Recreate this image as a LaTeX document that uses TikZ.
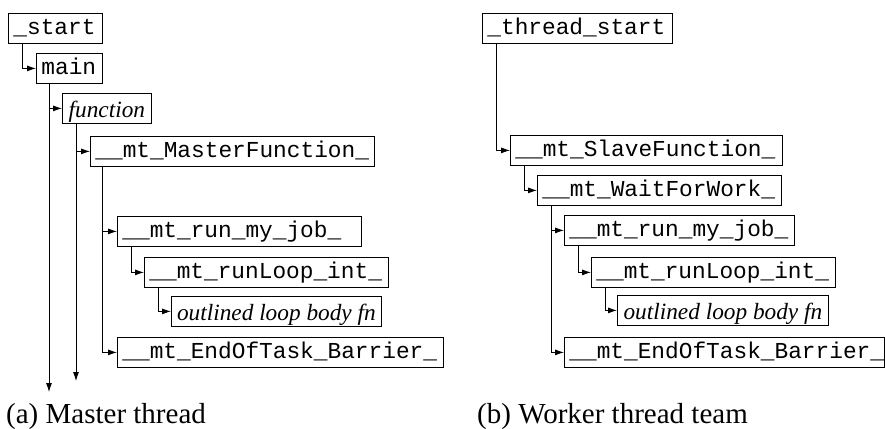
\documentclass[tikz,border=0pt]{standalone}
\usepackage{fontspec}
\setmainfont{Liberation Serif}
\setmonofont{Liberation Mono}
\usepackage{tikz}
\usetikzlibrary{arrows.meta,positioning}
\tikzset{>={Latex[length=9pt,width=6pt]}}
\newcommand\callfont{\ttfamily\fontsize{22.8}{26}\selectfont}
\newcommand\userfont{\itshape\fontsize{23.3}{26}\selectfont}
\newcommand\capfont{\fontsize{29}{32}\selectfont}

\tikzset{
  box/.style={draw, line width=0.8pt, anchor=north west, minimum height=30pt,
    inner ysep=0pt},
  fn/.style={box, inner xsep=5pt, align=left, text width=#1,
    text height=16pt, text depth=3pt, font=\callfont},
  ufn/.style={box, inner xsep=2pt, minimum width=#1,
    text height=19pt, text depth=1pt, font=\userfont},
  call/.style={->, line width=0.8pt},
  caption/.style={anchor=base west, inner sep=0pt, font=\capfont},
}

\begin{document}
\begin{tikzpicture}[x=1pt, y=-1pt]
\useasboundingbox (0,0) rectangle (885,428);

% (a) master thread
\node[fn=84pt]  (start)  at (8,13)    {\_start};
\node[fn=56pt]  (main)   at (36,53)   {main};
\node[ufn=89pt] (func)   at (62,93)   {function};
\node[fn=274pt] (master) at (90,136)  {\_\_mt\_MasterFunction\_};
\node[fn=234pt] (runA)   at (117,216) {\_\_mt\_run\_my\_job\_};
\node[fn=234pt] (loopA)  at (144,257) {\_\_mt\_runLoop\_int\_};
\node[ufn=210pt] (bodyA) at (171,296) {outlined loop body fn};
\node[fn=316pt] (endA)   at (117,337) {\_\_mt\_EndOfTask\_Barrier\_};

\coordinate (mainEnd) at (49,392);
\coordinate (funcEnd) at (76,381);
\draw[call] ([xshift=13pt]main.south west) -- (mainEnd);
\draw[call] ([xshift=13pt]main.south west) |- (func.west);
\draw[call] ([xshift=14pt]func.south west) -- (funcEnd);
\draw[call] ([xshift=14pt]func.south west) |- (master.west);
\draw[call] ([xshift=12pt]master.south west) |- (runA.west);
\draw[call] ([xshift=12pt]master.south west) |- (endA.west);
\foreach \a/\b in {start/main, runA/loopA, loopA/bodyA}
  \draw[call] ([xshift=14pt]\a.south west) |- (\b.west);

\node[caption] (capA) at (6,423) {(a) Master thread};

% (b) worker thread team
\node[fn=180pt] (tstart) at (482,13)  {\_thread\_start};
\node[fn=262pt] (slave)  at (510,135) {\_\_mt\_SlaveFunction\_};
\node[fn=234pt] (wait)   at (537,175) {\_\_mt\_WaitForWork\_};
\node[fn=220pt] (runB)   at (564,215) {\_\_mt\_run\_my\_job\_};
\node[fn=234pt] (loopB)  at (591,257) {\_\_mt\_runLoop\_int\_};
\node[ufn=211pt] (bodyB) at (617,295) {outlined loop body fn};
\node[fn=310pt] (endB)   at (564,337) {\_\_mt\_EndOfTask\_Barrier\_};

\foreach \a/\b in {tstart/slave, slave/wait, wait/runB, wait/endB, runB/loopB, loopB/bodyB}
  \draw[call] ([xshift=14pt]\a.south west) |- (\b.west);

\node[caption] (capB) at (477,423) {(b) Worker thread team};
\end{tikzpicture}
\end{document}
